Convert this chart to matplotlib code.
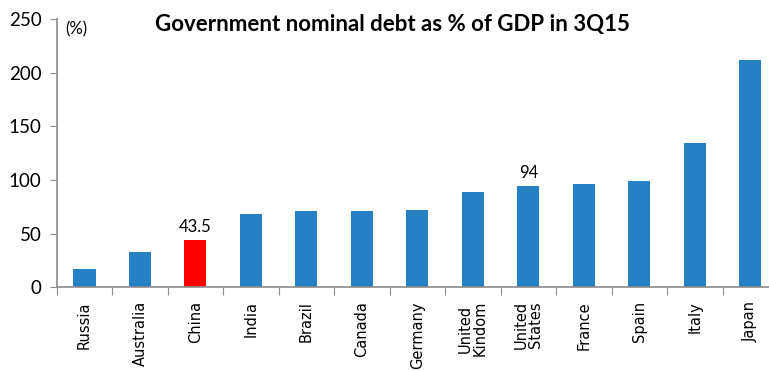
import matplotlib.pyplot as plt
import numpy as np

countries = ['Russia', 'Australia', 'China', 'India', 'Brazil', 'Canada', 'Germany',
             'United\nKindom', 'United\nStates', 'France', 'Spain', 'Italy', 'Japan']
debt = [17, 32.6, 43.5, 68.5, 71, 71, 71.5, 88.5, 94.4, 96.6, 98.9, 134.5, 211.5]
highlight = 'China'
labels = {'China': '43.5', 'United\nStates': '94'}

blue = '#2681C4'
red = '#FF0000'
axis_grey = '#8C8C8C'

fig = plt.figure(figsize=(7.69, 3.71), dpi=100)
ax = fig.add_axes([0.0737, 0.226, 0.938, 0.723])

x = np.arange(len(countries))
colors = [red if c == highlight else blue for c in countries]
ax.bar(x, debt, width=0.4, color=colors)

for i, c in enumerate(countries):
    if c in labels:
        ax.text(i, debt[i] + 5, labels[c], ha='center', va='bottom',
                fontsize=12, family='Lato')

ax.set_xlim(-0.5, len(countries) - 0.5)
ax.set_ylim(0, 250)
ax.set_yticks([0, 50, 100, 150, 200, 250])

# category boundaries as tick marks, names in between
ax.set_xticks(np.arange(len(countries) + 1) - 0.5)
ax.set_xticklabels([])
ax.set_xticks(x, minor=True)
ax.set_xticklabels(countries, minor=True, rotation=90, va='top', ha='center',
                   fontsize=10.5, linespacing=1.0)
ax.tick_params(axis='x', which='minor', length=0, pad=10)
ax.tick_params(axis='x', which='major', length=6, color=axis_grey, direction='out')
ax.tick_params(axis='y', length=5, color=axis_grey, labelsize=13.5, pad=6)
for lab in ax.get_yticklabels():
    lab.set_family('Lato')

for s in ['top', 'right']:
    ax.spines[s].set_visible(False)
for s in ['left', 'bottom']:
    ax.spines[s].set_color(axis_grey)
    ax.spines[s].set_linewidth(1.2)

ax.text(0.012, 0.99, '(%)', transform=ax.transAxes, fontsize=12, family='Lato',
        va='top', ha='left')
fig.text(0.51, 0.935, 'Government nominal debt as % of GDP in 3Q15', ha='center',
         va='center', fontsize=16, fontweight='bold', family='Lato')

fig.savefig('out.png', dpi=100)
